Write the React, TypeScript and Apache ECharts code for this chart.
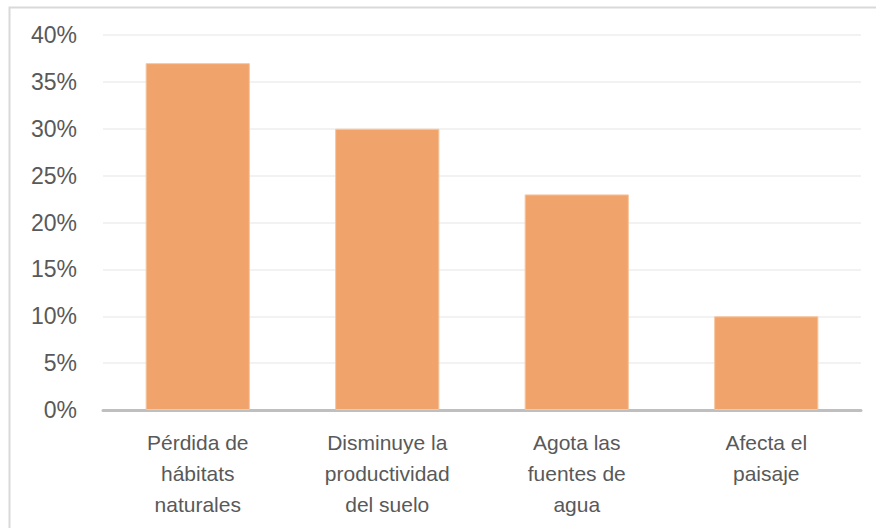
import React, { useEffect, useRef } from "react";
import * as echarts from "echarts";

const categories = [
  "Pérdida de\nhábitats\nnaturales",
  "Disminuye la\nproductividad\ndel suelo",
  "Agota las\nfuentes de\nagua",
  "Afecta el\npaisaje",
];
const values = [37, 30, 23, 10];
const yTicks = { min: 0, max: 40, interval: 5 };

export default function App() {
  const ref = useRef<HTMLDivElement>(null);
  useEffect(() => {
    if (!ref.current) return;
    const chart = echarts.init(ref.current, null, { renderer: "svg" });
    chart.setOption({
      animation: false,
      backgroundColor: "#ffffff",
      graphic: [
        {
          type: "rect",
          shape: { x: 9.5, y: 7.5, width: 900, height: 600 },
          style: { fill: "none", stroke: "#d9d9d9", lineWidth: 2 },
          silent: true,
        },
      ],
      grid: { left: 103, right: 15, top: 35, bottom: 118, containLabel: false },
      xAxis: {
        type: "category",
        data: categories,
        axisTick: { show: false },
        axisLine: { show: true, lineStyle: { color: "#bfbfbf", width: 3 } },
        axisLabel: {
          interval: 0,
          margin: 17,
          color: "#595959",
          fontSize: 21,
          lineHeight: 31,
          fontFamily: "'Liberation Sans Narrow', 'Arial Narrow', 'Liberation Sans', Arial, sans-serif",
        },
      },
      yAxis: {
        type: "value",
        min: yTicks.min,
        max: yTicks.max,
        interval: yTicks.interval,
        axisLine: { show: false },
        axisTick: { show: false },
        splitLine: { lineStyle: { color: "#eeeeee", width: 1.5 } },
        axisLabel: {
          formatter: "{value}%",
          margin: 26,
          color: "#595959",
          fontSize: 23,
          fontFamily: "'Liberation Sans', Arial, sans-serif",
        },
      },
      series: [
        {
          type: "bar",
          data: values,
          barWidth: "55%",
          itemStyle: { color: "#F0A46C", borderColor: "#f6c7a2", borderWidth: 1 },
        },
      ],
    });
    return () => chart.dispose();
  }, []);
  return (
    <div
      ref={ref}
      style={{ position: "absolute", left: 0, top: 0, width: 876, height: 528 }}
    />
  );
}
